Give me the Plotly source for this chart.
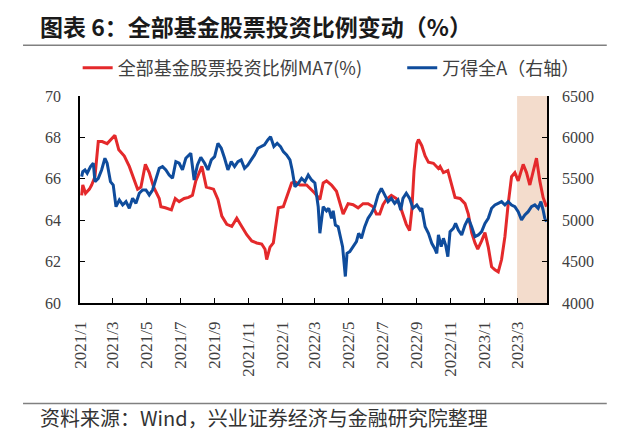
import plotly.graph_objects as go

# ---- data ----
red_dates = [
    "2021-01-04", "2021-01-06", "2021-01-11", "2021-01-18", "2021-01-22", "2021-01-28",
    "2021-02-03", "2021-02-10", "2021-02-19", "2021-02-26", "2021-03-05", "2021-03-12",
    "2021-03-22", "2021-03-31", "2021-04-07", "2021-04-15", "2021-04-21", "2021-04-29",
    "2021-05-06", "2021-05-14", "2021-05-24", "2021-05-27", "2021-06-04", "2021-06-15",
    "2021-06-22", "2021-06-29", "2021-07-08", "2021-07-16", "2021-07-23", "2021-07-29",
    "2021-08-09", "2021-08-17", "2021-08-30", "2021-09-07", "2021-09-14", "2021-09-23",
    "2021-10-02", "2021-10-11", "2021-10-20", "2021-10-29", "2021-11-07", "2021-11-16",
    "2021-11-25", "2021-12-01", "2021-12-04", "2021-12-10", "2021-12-16", "2021-12-22",
    "2021-12-25", "2022-01-03", "2022-01-12", "2022-01-18", "2022-01-24", "2022-02-02",
    "2022-02-14", "2022-02-20", "2022-03-01", "2022-03-10", "2022-03-16", "2022-03-22",
    "2022-03-31", "2022-04-09", "2022-04-15", "2022-04-21", "2022-04-30", "2022-05-09",
    "2022-05-18", "2022-05-27", "2022-06-05", "2022-06-14", "2022-06-20", "2022-06-26",
    "2022-07-02", "2022-07-08", "2022-07-17", "2022-07-26", "2022-08-01", "2022-08-07",
    "2022-08-13", "2022-08-19", "2022-08-23", "2022-08-27", "2022-09-01", "2022-09-04",
    "2022-09-10", "2022-09-16", "2022-09-22", "2022-10-01", "2022-10-10", "2022-10-13",
    "2022-10-19", "2022-10-27", "2022-11-03", "2022-11-09", "2022-11-18", "2022-11-27",
    "2022-12-03", "2022-12-09", "2022-12-15", "2022-12-20", "2022-12-27", "2023-01-02",
    "2023-01-08", "2023-01-14", "2023-01-20", "2023-01-26", "2023-02-01", "2023-02-07",
    "2023-02-13", "2023-02-19", "2023-02-25", "2023-03-03", "2023-03-12", "2023-03-18",
    "2023-03-24", "2023-03-30", "2023-04-05", "2023-04-11", "2023-04-17", "2023-04-23",
]
red_vals = [
    65.2, 65.7, 65.3, 65.5, 65.7, 66.1,
    67.8, 67.8, 67.7, 67.9, 68.1, 67.4,
    67.1, 66.6, 66.1, 65.5, 65.6, 66.7,
    66.3, 65.6, 65.05, 64.65, 64.6, 64.5,
    65.05, 64.9, 65.05, 65.1, 65.2, 65.9,
    66.6, 65.6, 65.5, 65.0, 64.2, 63.8,
    63.7, 64.1, 63.7, 63.3, 63.0, 62.9,
    62.85, 62.6, 62.1, 62.7, 62.9, 64.0,
    64.6, 64.65, 65.3, 65.8, 65.85, 65.7,
    65.7, 65.55, 65.3, 65.0, 65.8, 65.9,
    65.7, 65.4, 64.9, 64.3, 64.8, 64.75,
    64.6, 64.8, 64.8, 64.65, 64.3, 64.3,
    64.75, 65.0, 65.2, 65.05, 64.75, 64.3,
    63.8, 63.5, 64.5, 66.4, 67.7, 67.9,
    67.6, 67.1, 66.8, 66.75, 66.5, 66.6,
    66.3, 66.4, 65.7, 65.1, 65.05, 64.8,
    64.3, 63.4, 62.9, 62.6, 63.0, 63.4,
    62.7, 61.75, 61.6, 61.5, 62.1, 63.2,
    64.8, 66.1, 66.3, 65.9, 66.7, 66.3,
    65.7, 66.4, 67.0, 65.9, 65.1, 64.65,
]

blue_dates = [
    "2021-01-04", "2021-01-06", "2021-01-10", "2021-01-14", "2021-01-20", "2021-01-25",
    "2021-01-28", "2021-02-03", "2021-02-09", "2021-02-15", "2021-02-19", "2021-02-25",
    "2021-03-02", "2021-03-07", "2021-03-13", "2021-03-19", "2021-03-25", "2021-03-31",
    "2021-04-06", "2021-04-12", "2021-04-18", "2021-04-24", "2021-04-30", "2021-05-06",
    "2021-05-12", "2021-05-18", "2021-05-24", "2021-05-30", "2021-06-05", "2021-06-11",
    "2021-06-17", "2021-06-23", "2021-06-29", "2021-07-05", "2021-07-11", "2021-07-20",
    "2021-07-26", "2021-08-01", "2021-08-07", "2021-08-14", "2021-08-20", "2021-08-26",
    "2021-09-01", "2021-09-07", "2021-09-13", "2021-09-19", "2021-09-25", "2021-10-01",
    "2021-10-07", "2021-10-13", "2021-10-19", "2021-10-25", "2021-10-31", "2021-11-06",
    "2021-11-12", "2021-11-18", "2021-11-24", "2021-11-30", "2021-12-06", "2021-12-11",
    "2021-12-17", "2021-12-23", "2021-12-29", "2022-01-03", "2022-01-09", "2022-01-15",
    "2022-01-19", "2022-01-24", "2022-01-30", "2022-02-05", "2022-02-11", "2022-02-17",
    "2022-02-23", "2022-03-01", "2022-03-07", "2022-03-10", "2022-03-16", "2022-03-22",
    "2022-03-26", "2022-03-31", "2022-04-03", "2022-04-07", "2022-04-12", "2022-04-17",
    "2022-04-20", "2022-04-25", "2022-04-28", "2022-05-03", "2022-05-09", "2022-05-15",
    "2022-05-19", "2022-05-24", "2022-05-30", "2022-06-05", "2022-06-11", "2022-06-17",
    "2022-06-23", "2022-06-29", "2022-07-05", "2022-07-11", "2022-07-17", "2022-07-23",
    "2022-07-29", "2022-08-03", "2022-08-07", "2022-08-13", "2022-08-19", "2022-08-25",
    "2022-09-01", "2022-09-07", "2022-09-10", "2022-09-16", "2022-09-22", "2022-09-28",
    "2022-10-03", "2022-10-07", "2022-10-10", "2022-10-15", "2022-10-19", "2022-10-23",
    "2022-10-27", "2022-10-31", "2022-11-06", "2022-11-10", "2022-11-15", "2022-11-21",
    "2022-11-27", "2022-12-03", "2022-12-09", "2022-12-15", "2022-12-21", "2022-12-27",
    "2023-01-02", "2023-01-08", "2023-01-14", "2023-01-20", "2023-01-26", "2023-02-01",
    "2023-02-07", "2023-02-13", "2023-02-19", "2023-02-25", "2023-03-03", "2023-03-09",
    "2023-03-15", "2023-03-21", "2023-03-27", "2023-04-02", "2023-04-08", "2023-04-13",
    "2023-04-17", "2023-04-20", "2023-04-23",
]
blue_vals = [
    5526, 5586, 5607, 5567, 5647, 5688,
    5465, 5506, 5607, 5748, 5688, 5465,
    5425, 5163, 5244, 5184, 5224, 5144,
    5264, 5204, 5325, 5365, 5365, 5305,
    5365, 5506, 5627, 5647, 5607, 5546,
    5506, 5707, 5688, 5607, 5748, 5808,
    5486, 5667, 5760, 5688, 5607, 5728,
    5768, 5929, 5869, 5748, 5607, 5707,
    5647, 5707, 5728, 5627, 5667, 5728,
    5788, 5869, 5889, 5909, 5969, 6009,
    5889, 5929, 5889, 5828, 5788, 5728,
    5607, 5405, 5446, 5506, 5465, 5546,
    5486, 5450, 5163, 4842, 5163, 5113,
    5143, 5023, 5113, 4942, 4922, 4761,
    4680, 4320, 4600, 4620, 4680, 4741,
    4842, 4781, 4922, 5023, 5083, 5163,
    5305, 5385, 5305, 5224, 5264, 5204,
    5244, 5123, 5264, 5325, 5264, 5144,
    5184, 5123, 5143, 4922, 4842, 4721,
    4661, 4600, 4822, 4680, 4781, 4700,
    4560, 4862, 4902, 4962, 4882, 4822,
    4942, 5023, 4922, 4801, 4822, 4862,
    4962, 5023, 5144, 5184, 5204, 5224,
    5184, 5224, 5184, 5163, 5103, 5003,
    5063, 5103, 5163, 5184, 5143, 5224,
    5123, 5023, 4982,
]

red_name = "全部基金股票投资比例MA7(%)"
blue_name = "万得全A（右轴）"
title_text = "图表 6：全部基金股票投资比例变动（%）"
source_text = "资料来源：Wind，兴业证券经济与金融研究院整理"
shade_start = "2023-03-01"
x_start, x_end = "2021-01-01", "2023-04-24"

RED = "#E4292B"
BLUE = "#0F4C9C"
SERIF = "Liberation Serif, Times New Roman, serif"
CJK = "Noto Sans CJK SC, sans-serif"

fig = go.Figure()
fig.add_trace(go.Scatter(x=red_dates, y=red_vals, name=red_name, mode="lines",
                         line=dict(color=RED, width=3), yaxis="y", legend="legend"))
fig.add_trace(go.Scatter(x=blue_dates, y=blue_vals, name=blue_name, mode="lines",
                         line=dict(color=BLUE, width=3), yaxis="y2", legend="legend2"))

fig.add_shape(type="rect", xref="x", yref="paper", x0=shade_start, x1=x_end, y0=0, y1=1,
              fillcolor="#F3DCCC", line_width=0, layer="below")

tick_font = dict(family=SERIF, size=16, color="#404040")
axis_common = dict(showgrid=False, zeroline=False, showline=True, linecolor="black",
                   linewidth=1.5, ticks="inside", ticklen=5, tickcolor="black")
legend_common = dict(orientation="h", y=1.135, xanchor="left", yanchor="middle",
                     font=dict(family=CJK, size=18, color="#404040"),
                     bgcolor="rgba(0,0,0,0)")

# the page body adds an 8px offset, so margins are shifted to compensate
fig.update_layout(
    width=640, height=439,
    margin=dict(l=72, r=101, t=88, b=144, autoexpand=False),
    paper_bgcolor="white", plot_bgcolor="white",
    showlegend=True,
    legend=dict(x=-0.005, **legend_common),
    legend2=dict(x=0.69, **legend_common),
    xaxis=dict(type="date", range=[x_start, x_end], dtick="M2", tick0="2021-01-01",
               tickformat="%Y/%-m", tickangle=-90, ticklabelstandoff=10,
               tickfont=dict(family=SERIF, size=17, color="#404040"), **axis_common),
    yaxis=dict(range=[60, 70], dtick=2, ticklabelstandoff=14, tickfont=tick_font, **axis_common),
    yaxis2=dict(range=[4000, 6500], dtick=500, overlaying="y", side="right",
                ticklabelstandoff=10, tickfont=tick_font, **axis_common),
)

fig.add_annotation(text=title_text, xref="paper", yref="paper", x=-0.09, y=1.338,
                   xanchor="left", yanchor="middle", showarrow=False,
                   font=dict(family=CJK, size=23, color="#1a1a1a", weight="bold"))
fig.add_annotation(text=source_text, xref="paper", yref="paper", x=-0.09, y=-0.553,
                   xanchor="left", yanchor="middle", showarrow=False,
                   font=dict(family=CJK, size=20, color="#333333"))
for yy in (1.245, -0.485):
    fig.add_shape(type="line", xref="paper", yref="paper", x0=-0.122, x1=1.128,
                  y0=yy, y1=yy, line=dict(color="#808080", width=1.5))

fig.write_html("out.html")
